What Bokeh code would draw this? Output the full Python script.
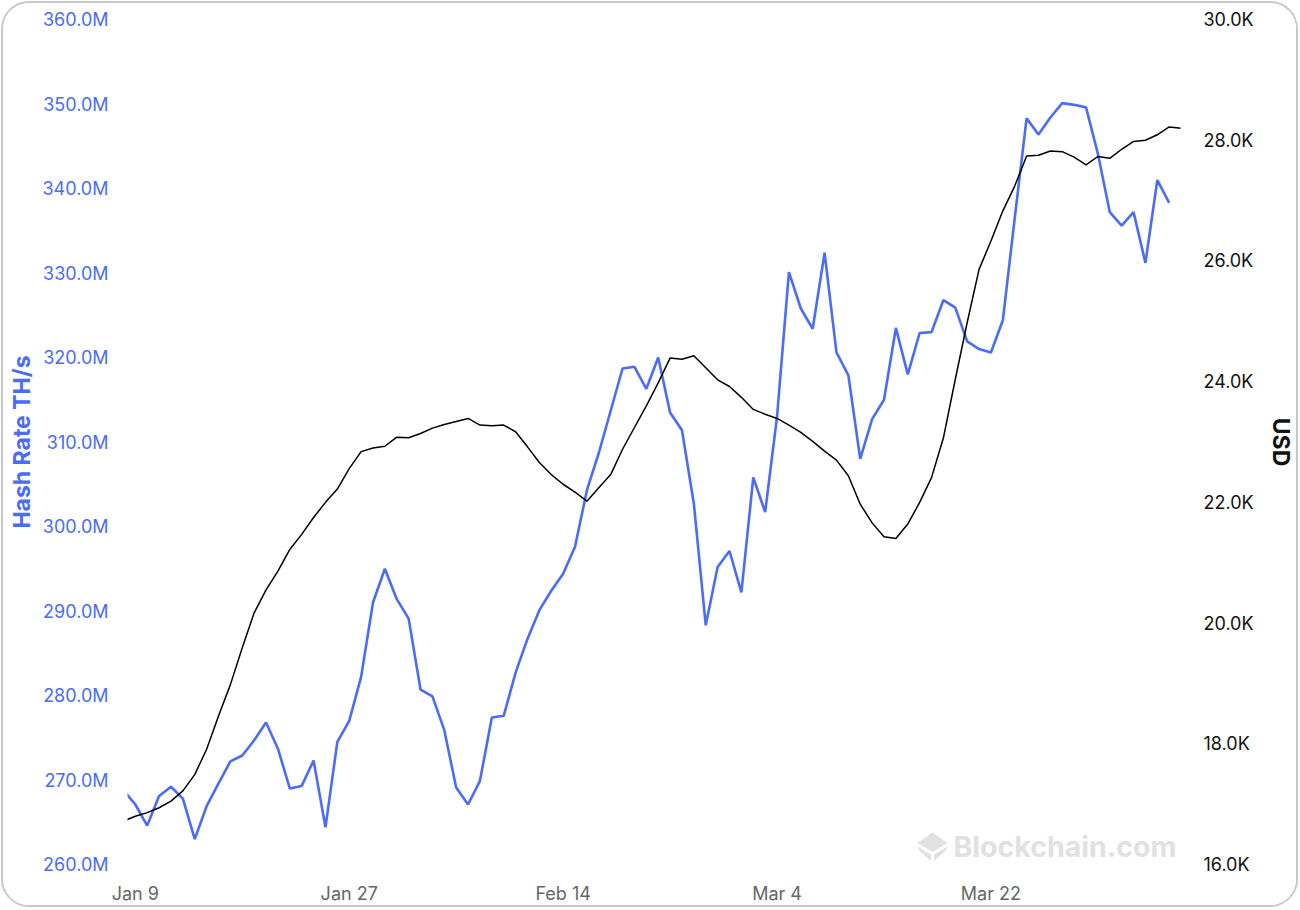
import pandas as pd
from bokeh.plotting import figure
from bokeh.models import (Range1d, LinearAxis, FixedTicker, PrintfTickFormatter,
                          CustomJSTickFormatter, Label, ColumnDataSource, PolyAnnotation)
from bokeh.embed import file_html
from bokeh.resources import INLINE

# ---------------- data ----------------
start_date = "2023-01-08"

hash_rate_m = [
    268.8, 267.1, 264.6, 268.1, 269.2, 267.8, 263.0, 266.9, 269.6, 272.2,
    272.9, 274.7, 276.8, 273.7, 269.0, 269.3, 272.3, 264.4, 274.5, 277.0,
    282.2, 291.0, 295.0, 291.4, 289.1, 280.7, 279.9, 275.9, 269.1, 267.1,
    269.9, 277.4, 277.6, 282.7, 286.7, 290.1, 292.4, 294.4, 297.6, 304.3,
    308.7, 313.7, 318.7, 318.9, 316.3, 320.0, 313.5, 311.4, 302.7, 288.3,
    295.2, 297.1, 292.2, 305.8, 301.7, 313.0, 330.1, 325.8, 323.4, 332.4,
    320.6, 317.9, 308.0, 312.7, 315.0, 323.5, 318.0, 322.9, 323.0, 326.8,
    325.9, 321.9, 321.0, 320.6, 324.4, 336.5, 348.3, 346.4, 348.4, 350.1,
    349.9, 349.6, 344.1, 337.2, 335.6, 337.2, 331.2, 341.0, 338.3,
]

btc_usd = [
    16720, 16800, 16860, 16940, 17050, 17220, 17490, 17910, 18460, 18980,
    19590, 20170, 20550, 20860, 21220, 21470, 21750, 22000, 22220, 22560,
    22840, 22900, 22930, 23080, 23070, 23140, 23230, 23290, 23340, 23390,
    23280, 23270, 23280, 23170, 22920, 22660, 22460, 22300, 22170, 22020,
    22240, 22460, 22880, 23240, 23600, 23980, 24390, 24370, 24430, 24230,
    24030, 23920, 23740, 23540, 23460, 23390, 23280, 23160, 23010, 22850,
    22700, 22440, 21970, 21660, 21430, 21400, 21640, 22000, 22410, 23070,
    24040, 24980, 25860, 26330, 26830, 27240, 27740, 27750, 27820, 27810,
    27720, 27590, 27730, 27700, 27850, 27980, 28000, 28090, 28220, 28200,
]

tick_dates = ["2023-01-09", "2023-01-27", "2023-02-14", "2023-03-04", "2023-03-22"]
tick_labels = ["Jan 9", "Jan 27", "Feb 14", "Mar 4", "Mar 22"]
hash_ticks = [260, 270, 280, 290, 300, 310, 320, 330, 340, 350, 360]
usd_ticks = [16000, 18000, 20000, 22000, 24000, 26000, 28000, 30000]

# ---------------- styling ----------------
BLUE = "#4A6CF7"
FONT = "Inter"
WM = "#e1e1e1"

W, H = 1297, 906
BL, BR, BT, BB = 124, 120, 16, 45
FW, FH = W - BL - BR, H - BT - BB

hash_src = ColumnDataSource(dict(
    date=pd.date_range(start_date, periods=len(hash_rate_m), freq="D"),
    val=hash_rate_m))
usd_src = ColumnDataSource(dict(
    date=pd.date_range(start_date, periods=len(btc_usd), freq="D"),
    val=btc_usd))

t0 = pd.Timestamp(start_date)
x_start = t0 + pd.Timedelta(hours=8.2)
x_end = t0 + pd.Timedelta(hours=88 * 24 + 22.8)

p = figure(width=W, height=H, output_backend="svg", toolbar_location=None,
           x_axis_type="datetime",
           x_range=Range1d(x_start, x_end),
           y_range=Range1d(hash_ticks[0], hash_ticks[-1]),
           min_border_left=BL, min_border_right=BR,
           min_border_top=BT, min_border_bottom=BB,
           background_fill_color="white", border_fill_color="white",
           outline_line_color=None,
           styles={"border": "2px solid #c8c8c8", "border-radius": "28px",
                   "overflow": "hidden", "margin": "1px 0 0 1px"})
p.extra_y_ranges = {"usd": Range1d(usd_ticks[0], usd_ticks[-1])}
p.grid.visible = False


def style_axis(ax, color):
    ax.axis_line_color = None
    ax.major_tick_line_color = None
    ax.minor_tick_line_color = None
    ax.major_tick_out = 0
    ax.major_tick_in = 0
    ax.major_label_text_font = FONT
    ax.major_label_text_font_size = "18px"
    ax.major_label_text_color = color


# left axis
yl = p.yaxis[0]
style_axis(yl, BLUE)
yl.ticker = FixedTicker(ticks=hash_ticks)
yl.formatter = PrintfTickFormatter(format="%.1fM")
yl.major_label_standoff = 19
yl.axis_label = "Hash Rate TH/s"
yl.axis_label_text_font = FONT
yl.axis_label_text_font_style = "bold"
yl.axis_label_text_font_size = "23px"
yl.axis_label_text_color = BLUE
yl.axis_label_standoff = 4

# right axis
yr = LinearAxis(y_range_name="usd")
style_axis(yr, "#111111")
yr.ticker = FixedTicker(ticks=usd_ticks)
yr.formatter = CustomJSTickFormatter(code="return (tick/1000).toFixed(1) + 'K';")
yr.major_label_standoff = 23
yr.axis_label = "USD"
yr.axis_label_text_font = FONT
yr.axis_label_text_font_style = "bold"
yr.axis_label_text_font_size = "23px"
yr.axis_label_text_color = "#111111"
yr.axis_label_standoff = 10
p.add_layout(yr, "right")

# bottom axis
xb = p.xaxis[0]
style_axis(xb, "#666666")
tick_ms = [pd.Timestamp(d).value // 10**6 for d in tick_dates]
xb.ticker = FixedTicker(ticks=tick_ms)
xb.major_label_overrides = {t: lab for t, lab in zip(tick_ms, tick_labels)}
xb.major_label_standoff = 18

# ---------------- watermark ----------------
ms_per_px = (x_end - x_start).total_seconds() * 1000 / FW
val_per_px = (hash_ticks[-1] - hash_ticks[0]) / FH
x0_ms = x_start.value // 10**6


def px_to_data(px, py):
    """pixel offset inside the frame -> data coords"""
    return x0_ms + px * ms_per_px, hash_ticks[-1] - py * val_per_px


# logo centre (frame pixels)
cx, cy = 932 - 127, 846 - 19
faces = [
    [(-15, -3.5), (0, -14), (15, -3.5), (0, 5.5)],
    [(-15, 0), (-1.5, 8), (-1.5, 14.5), (-13, 4.5)],
    [(15, 0), (1.5, 8), (1.5, 14.5), (13, 4.5)],
]
for face in faces:
    pts = [px_to_data(cx + dx, cy + dy) for dx, dy in face]
    p.add_layout(PolyAnnotation(xs=[a for a, _ in pts], ys=[b for _, b in pts],
                                fill_color=WM, fill_alpha=1.0, line_color=None))

tx, ty = px_to_data(953 - 127, 846 - 19)
p.add_layout(Label(x=tx, y=ty, text="Blockchain.com", text_font=FONT,
                   text_font_style="bold", text_font_size="28.5px",
                   text_color=WM, text_align="left",
                   text_baseline="alphabetic"))

# ---------------- lines ----------------
p.line("date", "val", source=hash_src, line_color=BLUE, line_width=2.6)
p.line("date", "val", source=usd_src, y_range_name="usd",
       line_color="#000000", line_width=1.5)

open("out.html", "w").write(file_html(p, INLINE))
